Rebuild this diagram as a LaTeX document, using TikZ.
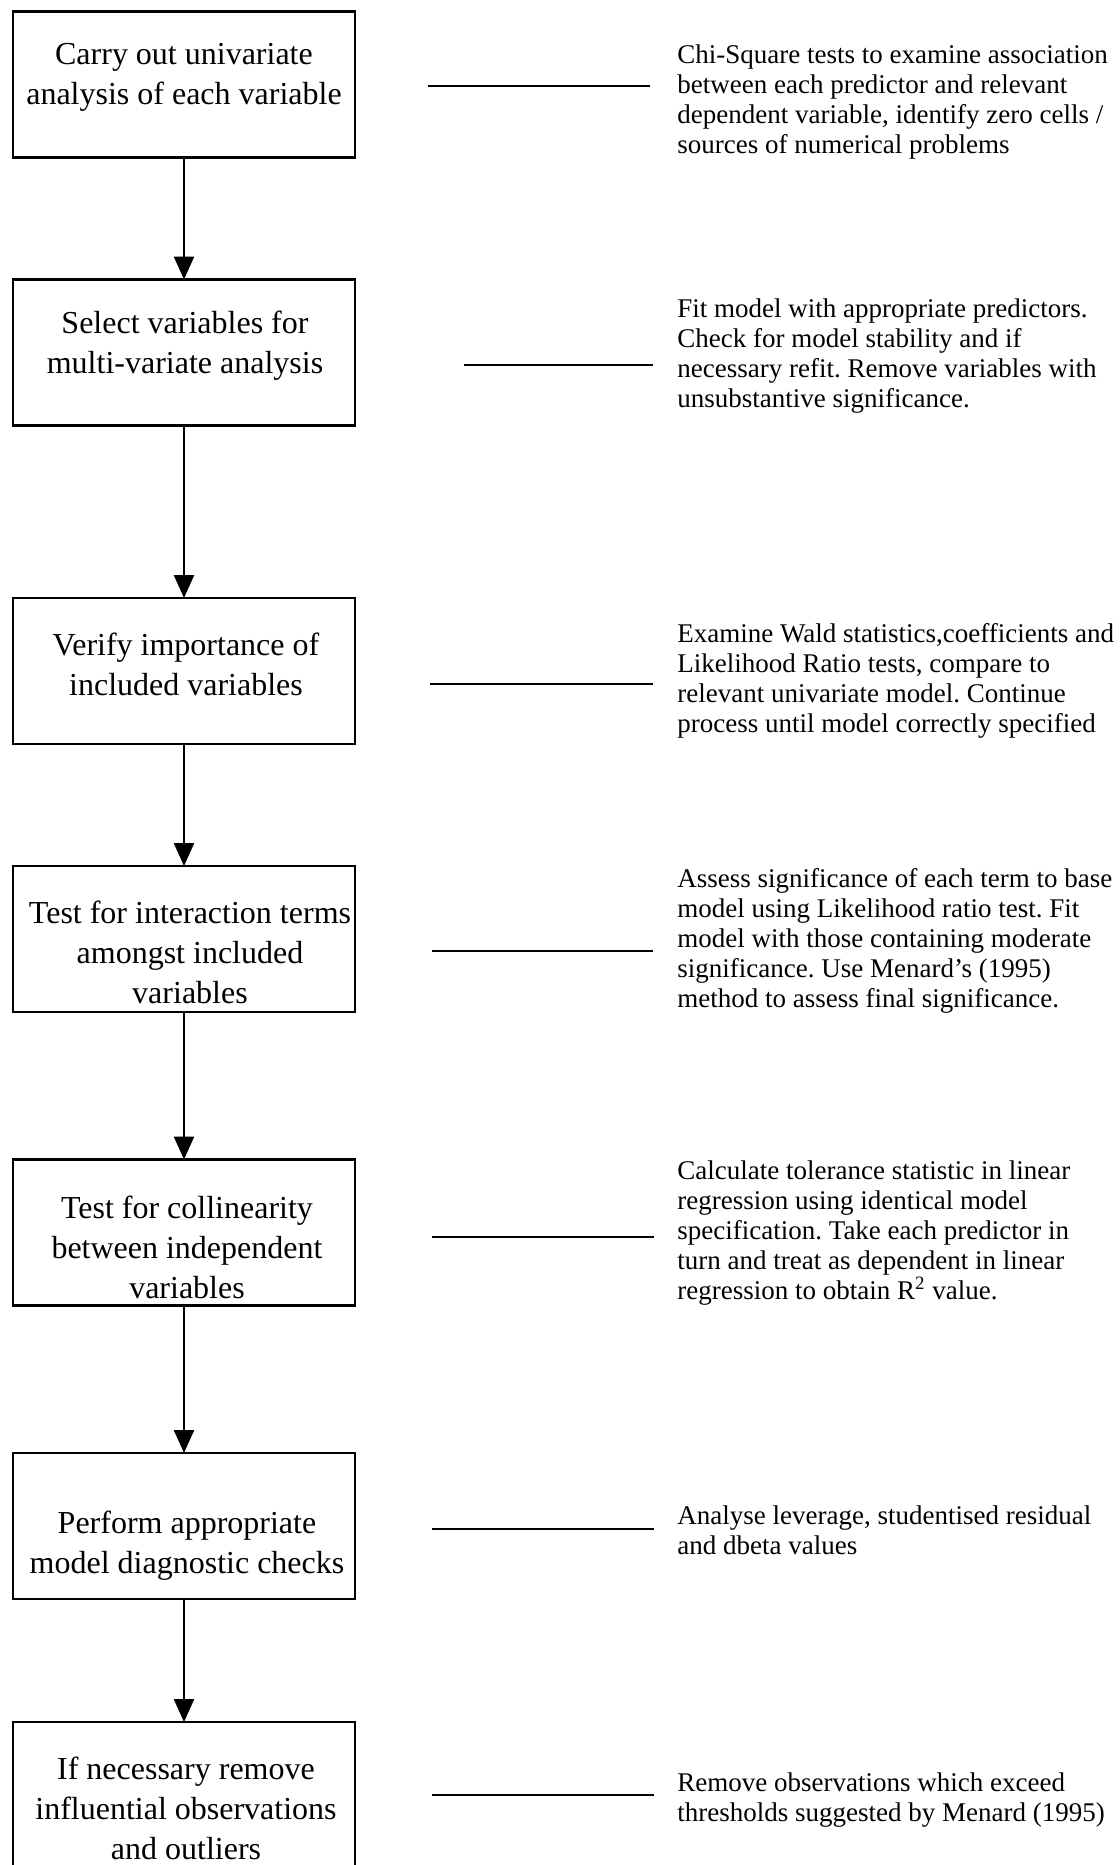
\documentclass[tikz,border=0pt]{standalone}
\usepackage{fontspec}
\setmainfont{Liberation Serif}
\usetikzlibrary{arrows.meta}
\begin{document}
\frenchspacing
\begin{tikzpicture}[x=0.5pt,y=-0.5pt,
  stepbox/.style={draw,line width=1.2pt,minimum width=171pt,minimum height=73pt,inner sep=0pt,outer sep=0pt},
  steptext/.style={align=center,font=\fontsize{16}{20}\selectfont,inner sep=0pt},
  note/.style={anchor=west,align=left,font=\fontsize{13.5}{15}\selectfont,inner sep=0pt},
  flow/.style={line width=1.2pt,-{Triangle[length=11.5pt,width=10pt]}},
  tie/.style={line width=1.2pt}]
\useasboundingbox (0,0) rectangle (1120,1865);

% process steps
\node[stepbox] (b1) at (184,84.5) {};
\node[stepbox] (b2) at (184,352.5) {};
\node[stepbox] (b3) at (184,671) {};
\node[stepbox] (b4) at (184,939) {};
\node[stepbox] (b5) at (184,1232.5) {};
\node[stepbox] (b6) at (184,1526) {};
\node[stepbox,minimum height=80pt] (b7) at (184,1802) {};

\node[steptext] (s1) at (184,77) {Carry out univariate\\analysis of each variable};
\node[steptext] (s2) at (185,346) {Select variables for\\multi-variate analysis};
\node[steptext] (s3) at (186,664) {Verify importance of\\included variables};
\node[steptext] (s4) at (190,952) {Test for interaction terms\\amongst included\\variables};
\node[steptext] (s5) at (187,1247) {Test for collinearity\\between independent\\variables};
\node[steptext] (s6) at (187,1546) {Perform appropriate\\model diagnostic checks};
\node[steptext] (s7) at (186,1808) {If necessary remove\\influential observations\\and outliers};

% flow between steps
\draw[flow] (b1) -- (b2);
\draw[flow] (b2) -- (b3);
\draw[flow] (b3) -- (b4);
\draw[flow] (b4) -- (b5);
\draw[flow] (b5) -- (b6);
\draw[flow] (b6) -- (b7);

% explanatory notes
\node[note] (n1) at (677,102) {Chi-Square tests to examine association\\between each predictor and relevant\\dependent variable, identify zero cells /\\sources of numerical problems};
\node[note] (n2) at (677,356.5) {Fit model with appropriate predictors.\\Check for model stability and if\\necessary refit. Remove variables with\\unsubstantive significance.};
\node[note] (n3) at (677,681) {Examine Wald statistics,coefficients and\\Likelihood Ratio tests, compare to\\relevant univariate model. Continue\\process until model correctly specified};
\node[note] (n4) at (677,940.5) {Assess significance of each term to base\\model using Likelihood ratio test. Fit\\model with those containing moderate\\significance. Use Menard’s (1995)\\method to assess final significance.};
\node[note] (n5) at (677,1233.5) {Calculate tolerance statistic in linear\\regression using identical model\\specification. Take each predictor in\\turn and treat as dependent in linear\\regression to obtain R\textsuperscript{2} value.};
\node[note] (n6) at (677,1530.5) {Analyse leverage, studentised residual\\and dbeta values};
\node[note] (n7) at (677,1800) {Remove observations which exceed\\thresholds suggested by Menard (1995)};

% ties from steps to notes
\coordinate (t1a) at (428,86);   \coordinate (t1b) at (650,86);
\coordinate (t2a) at (464,365);  \coordinate (t2b) at (653,365);
\coordinate (t3a) at (430,684);  \coordinate (t3b) at (653,684);
\coordinate (t4a) at (432,951);  \coordinate (t4b) at (653,951);
\coordinate (t5a) at (432,1237); \coordinate (t5b) at (654,1237);
\coordinate (t6a) at (432,1529); \coordinate (t6b) at (654,1529);
\coordinate (t7a) at (432,1795); \coordinate (t7b) at (654,1795);
\foreach \i in {1,...,7}{\draw[tie] (t\i a) -- (t\i b);}
\end{tikzpicture}
\end{document}
